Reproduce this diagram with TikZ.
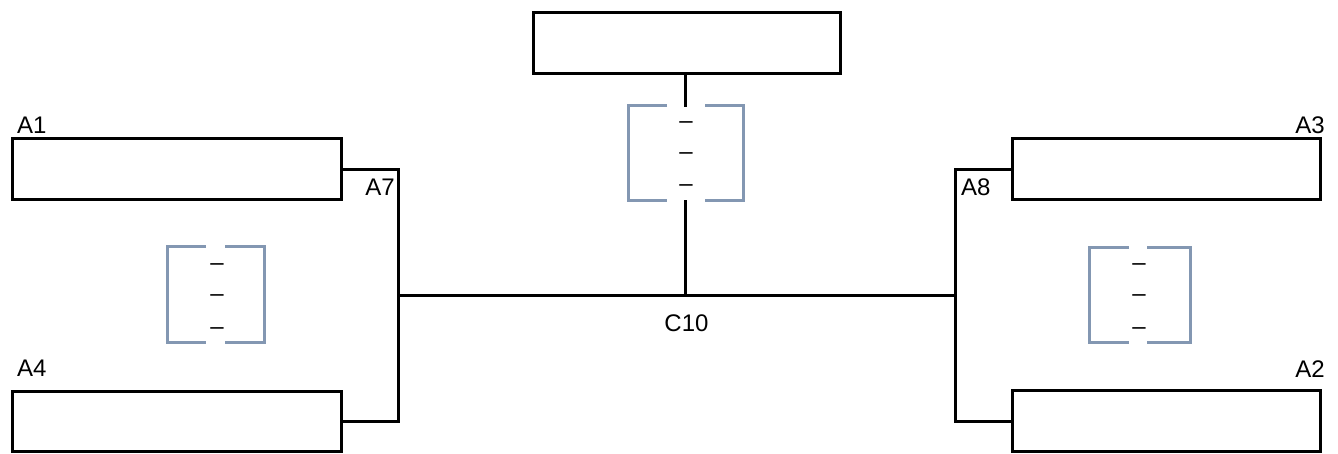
\documentclass[tikz,border=0pt]{standalone}
\usepackage{fontspec}
\setmainfont{Liberation Sans}
\begin{document}
\begin{tikzpicture}[x=1pt,y=-1pt,
  box/.style={draw=black,line width=3pt,rectangle,inner sep=0pt,minimum height=61pt},
  conn/.style={draw=black,line width=3pt},
  brk/.style={draw=bracketblue,line width=3pt},
  lbl/.style={font=\fontsize{24}{28}\selectfont,inner sep=0pt},
  dsh/.style={font=\fontsize{24}{28}\selectfont,inner sep=0pt,anchor=base}]
\definecolor{bracketblue}{HTML}{8397B2}
\useasboundingbox (0,0) rectangle (1338,453);
% boxes
\node[box,minimum width=307pt] (top) at (686.5,42.5) {};
\node[box,minimum width=329pt] (a1) at (176.5,169) {};
\node[box,minimum width=329pt,minimum height=60pt] (a4) at (176.5,421) {};
\node[box,minimum width=308pt] (a3) at (1166,169) {};
\node[box,minimum width=308pt] (a2) at (1166,421) {};
% labels
\node[lbl,anchor=base west] (la1) at (17,133) {A1};
\node[lbl,anchor=base west] (la4) at (17,376) {A4};
\node[lbl,anchor=base east] (la3) at (1325,133) {A3};
\node[lbl,anchor=base east] (la2) at (1325,377) {A2};
\node[lbl,anchor=base east] (la7) at (395,195) {A7};
\node[lbl,anchor=base west] (la8) at (961,195) {A8};
\node[lbl,anchor=base] (c10) at (686.5,331) {C10};
% connectors
\coordinate (l1) at (398,169);
\coordinate (l2) at (398,421);
\coordinate (lm) at (398,295);
\coordinate (r1) at (955,169);
\coordinate (r2) at (955,421);
\coordinate (rm) at (955,295);
\coordinate (cm) at (685,295);
\coordinate (ct1) at (685,107);
\coordinate (ct2) at (685,200);
\draw[conn] (a1.east) -- (l1) -- (l2) -- (a4.east);
\draw[conn] (a3.west) -- (r1) -- (r2) -- (a2.west);
\draw[conn] (lm) -- (rm);
\draw[conn] (top.south -| ct1) -- (ct1);
\draw[conn] (ct2) -- (cm);
% brackets
\draw[brk] (667,105) -- (628,105) -- (628,200) -- (667,200);
\draw[brk] (705,105) -- (743,105) -- (743,200) -- (705,200);
\draw[brk] (206,246) -- (167,246) -- (167,342) -- (206,342);
\draw[brk] (225,246) -- (264,246) -- (264,342) -- (225,342);
\draw[brk] (1129,247) -- (1089,247) -- (1089,342) -- (1129,342);
\draw[brk] (1147,247) -- (1190,247) -- (1190,342) -- (1147,342);
% dashes
\node[dsh] (t1) at (686,128) {–};
\node[dsh] (t2) at (686,159) {–};
\node[dsh] (t3) at (686,191) {–};
\node[dsh] (m1) at (217,270) {–};
\node[dsh] (m2) at (217,301) {–};
\node[dsh] (m3) at (217,334) {–};
\node[dsh] (n1) at (1139,270) {–};
\node[dsh] (n2) at (1139,301) {–};
\node[dsh] (n3) at (1139,334) {–};
\end{tikzpicture}
\end{document}
